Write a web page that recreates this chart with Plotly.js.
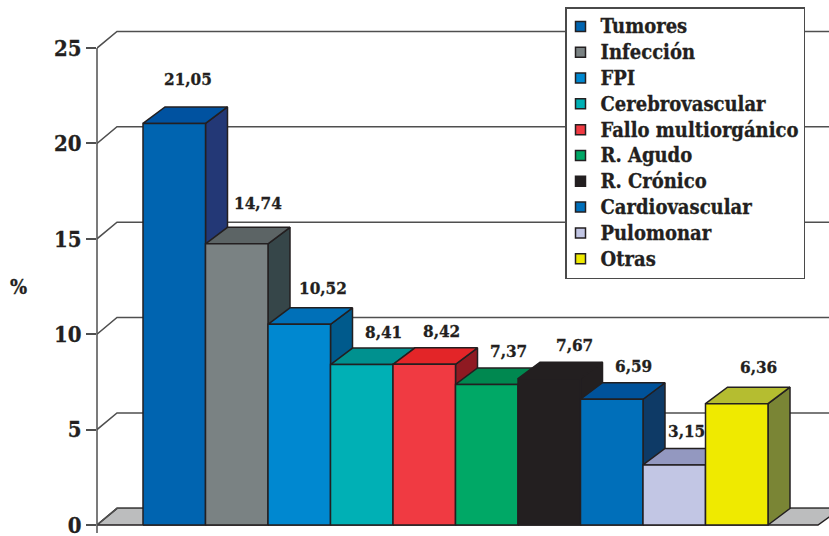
<!DOCTYPE html>
<html>
<head>
<meta charset="utf-8">
<script src="https://cdn.plot.ly/plotly-3.0.1.min.js"></script>
<style>
html,body{margin:0;padding:0;background:#fff}
/* slightly heavier serif lettering */
svg text{stroke:#231f20;stroke-width:.3px}
</style>
</head>
<body>
<div id="chart" style="width:829px;height:536px"></div>
<script>
// Causes of death, percentages
const categories = ["Tumores","Infección","FPI","Cerebrovascular","Fallo multiorgánico","R. Agudo","R. Crónico","Cardiovascular","Pulomonar","Otras"];
const values = [21.05,14.74,10.52,8.41,8.42,7.37,7.67,6.59,3.15,6.36];
const valueLabels = ["21,05","14,74","10,52","8,41","8,42","7,37","7,67","6,59","3,15","6,36"];
const yTicks = [0,5,10,15,20,25];

// Face colours of each block
const frontColors = ["#0064b0","#7a8283","#0088d0","#00b0b5","#f03a42","#00a866","#231f20","#006fba","#c2c6e4","#efea00"];
const topColors   = ["#0052a0","#5c6465","#0070b8","#00918f","#e32528","#008850","#231f20","#00529a","#9398c0","#b5bd30"];
const sideColors  = ["#233876","#364649","#005a8c","#00686c","#8f1a22","#00663c","#231f20","#0e3a66","#6a6f9a","#7a8535"];

// Value label nudges in px relative to each block's top front centre
const labelShiftX = [14,21,24,22,17,22,25,22,12,22];
const labelShiftY = [44,41,36,33,33,33,34,33,34,37];

// Projection of the pseudo-3D depth, in data units
const edge = "#231f20", gridColor = "#4f4f4f";
const depthX = 0.352, depthY = 0.865;
const wallX = -0.736, wallDX = 0.32, wallDY = 0.875;
const xMax = 10.976, floorEnd = 10.8;
const FONT = "DejaVu Serif Condensed";

const traces = [];

// Back wall gridlines, stepped from each axis tick
const gx = [], gy = [];
yTicks.forEach(t => { gx.push(wallX, wallX+wallDX, xMax, null); gy.push(t, t+wallDY, t+wallDY, null); });

// Floor
traces.push({type:"scatter",mode:"lines",x:[wallX,wallX+wallDX,xMax+0.2,floorEnd,wallX],y:[0,wallDY,wallDY,0,0],
  fill:"toself",fillcolor:"#bcbdbe",line:{color:edge,width:1.5},showlegend:false,hoverinfo:"skip"});
traces.push({type:"scatter",mode:"lines",x:gx,y:gy,line:{color:gridColor,width:1.5},showlegend:false,hoverinfo:"skip"});

// Blocks painted left to right, each covering the side of the previous one
const poly = (x,y,fill) => ({type:"scatter",mode:"lines",x,y,fill:"toself",fillcolor:fill,
  line:{color:edge,width:1.5},showlegend:false,hoverinfo:"skip"});
values.forEach((v,i) => {
  const l=i, r=i+1;
  traces.push(poly([r,r+depthX,r+depthX,r,r],[0,depthY,v+depthY,v,0],sideColors[i]));
  traces.push(poly([l,l+depthX,r+depthX,r,l],[v,v+depthY,v+depthY,v,v],topColors[i]));
  traces.push(poly([l,l,r,r,l],[0,v,v,0,0],frontColors[i]));
});

// Legend entries
categories.forEach((c,i) => traces.push({type:"scatter",mode:"markers",x:[null],y:[null],
  name:'<span style="font-size:20px">'+c+'</span>',legendgroup:"g"+i,
  marker:{symbol:"square",size:10,color:frontColors[i],line:{color:edge,width:1.5}}}));

const annotations = values.map((v,i)=>({x:i+0.5,y:v,xref:"x",yref:"y",text:valueLabels[i],showarrow:false,
  xanchor:"center",yanchor:"middle",xshift:labelShiftX[i],yshift:labelShiftY[i],
  font:{family:FONT,size:17,weight:700,color:edge}}));
annotations.push({xref:"paper",yref:"paper",x:(18-97)/732,y:1-287/533,xanchor:"center",yanchor:"middle",text:"%",showarrow:false,
  font:{family:FONT,size:20,weight:700,color:edge}});

const layout = {
  width:829,height:536,paper_bgcolor:"#fff",plot_bgcolor:"#fff",
  margin:{l:97,r:0,t:0,b:3,pad:0},
  showlegend:true,
  legend:{x:(565-97)/732,y:1-7/533,xanchor:"left",yanchor:"top",bgcolor:"#fff",bordercolor:"#4a4a4a",borderwidth:1.5,
    font:{family:FONT,size:17.55,weight:700,color:edge},traceorder:"normal",tracegroupgap:0,indentation:-6,
    entrywidth:220,entrywidthmode:"pixels",itemclick:false,itemdoubleclick:false},
  xaxis:{visible:false,range:[wallX,xMax],fixedrange:true},
  yaxis:{range:[-0.42,27.52],tickmode:"array",tickvals:yTicks,ticktext:yTicks.map(String),ticks:"outside",ticklen:10,tickwidth:1.5,
    tickcolor:gridColor,showgrid:false,zeroline:false,showline:false,fixedrange:true,ticklabeloverflow:"allow",
    tickfont:{family:FONT,size:22,weight:700,color:edge}},
  shapes:[{type:"line",xref:"paper",yref:"y",x0:0,x1:0,y0:-0.42,y1:25,line:{color:gridColor,width:1.5}}],
  annotations
};
Plotly.newPlot("chart",traces,layout,{displayModeBar:false,responsive:false});
</script>
</body>
</html>
